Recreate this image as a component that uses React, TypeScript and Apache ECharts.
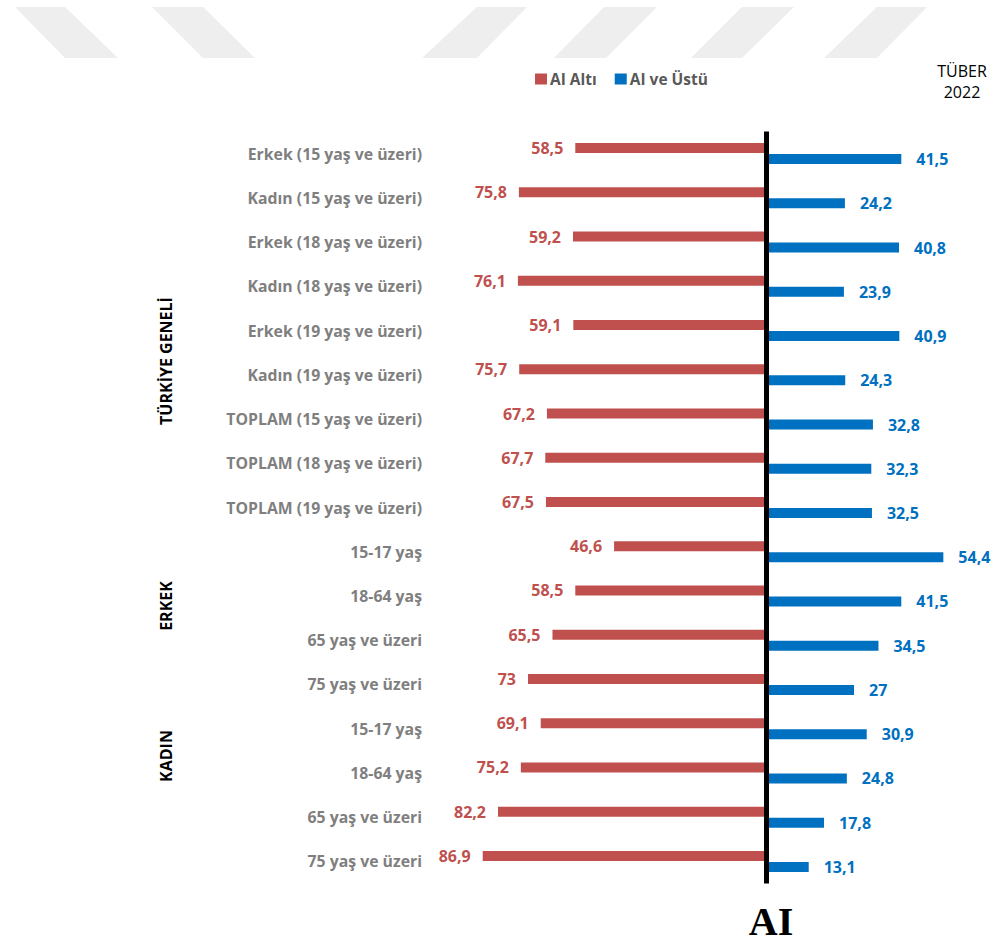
import React, { useEffect, useRef } from "react";
import * as echarts from "echarts";

const categories = [
  "Erkek (15 yaş ve üzeri)",
  "Kadın (15 yaş ve üzeri)",
  "Erkek (18 yaş ve üzeri)",
  "Kadın (18 yaş ve üzeri)",
  "Erkek (19 yaş ve üzeri)",
  "Kadın (19 yaş ve üzeri)",
  "TOPLAM (15 yaş ve üzeri)",
  "TOPLAM (18 yaş ve üzeri)",
  "TOPLAM (19 yaş ve üzeri)",
  "15-17 yaş",
  "18-64 yaş",
  "65 yaş ve üzeri",
  "75 yaş ve üzeri",
  "15-17 yaş",
  "18-64 yaş",
  "65 yaş ve üzeri",
  "75 yaş ve üzeri",
];

const aiAlti = [58.5, 75.8, 59.2, 76.1, 59.1, 75.7, 67.2, 67.7, 67.5, 46.6, 58.5, 65.5, 73, 69.1, 75.2, 82.2, 86.9];
const aiVeUstu = [41.5, 24.2, 40.8, 23.9, 40.9, 24.3, 32.8, 32.3, 32.5, 54.4, 41.5, 34.5, 27, 30.9, 24.8, 17.8, 13.1];

const seriesNames = ["AI Altı", "AI ve Üstü"];
const groupLabels = ["TÜRKİYE GENELİ", "ERKEK", "KADIN"];

const FONT = "'Open Sans', Lato, sans-serif";
const RED = "#C0504D";
const BLUE = "#0070C0";

const fmt = (v: number) => String(Math.abs(v)).replace(".", ",");

const stripes: number[][][] = [
  [[15, 7], [65, 7], [118, 58], [65, 58]],
  [[152, 7], [203, 7], [255, 58], [203, 58]],
  [[477, 7], [527, 7], [477, 58], [422, 58]],
  [[604, 7], [657, 7], [606, 58], [554, 58]],
  [[742, 7], [794, 7], [742, 58], [691, 58]],
  [[877, 7], [927, 7], [877, 58], [824, 58]],
];

export default function App() {
  const ref = useRef<HTMLDivElement>(null);
  useEffect(() => {
    if (!ref.current) return;
    const chart = echarts.init(ref.current, null, { renderer: "svg" });
    chart.setOption({
      animation: false,
      backgroundColor: "#ffffff",
      legend: {
        left: 530,
        top: 66,
        icon: "rect",
        itemWidth: 12,
        itemHeight: 11,
        itemGap: 18,
        data: seriesNames,
        textStyle: { color: "#595959", fontWeight: "bold", fontSize: 15.5, fontFamily: FONT, padding: [0, 0, 0, -2] },
      },
      grid: { left: 440, top: 131.5, width: 521.6, height: 752, containLabel: false },
      xAxis: {
        type: "value",
        min: -100,
        max: 60,
        show: false,
      },
      yAxis: {
        type: "category",
        inverse: true,
        data: categories,
        axisLine: { show: false },
        axisTick: { show: false },
        splitLine: { show: false },
        axisLabel: {
          margin: 18,
          color: "#7F7F7F",
          fontWeight: "bold",
          fontSize: 15.8,
          fontFamily: FONT,
        },
      },
      series: [
        {
          name: seriesNames[0],
          type: "bar",
          data: aiAlti.map((v) => -v),
          barWidth: 10,
          barGap: "10%",
          itemStyle: { color: RED },
          label: {
            show: true,
            position: "left",
            distance: 12,
            color: RED,
            fontWeight: "bold",
            fontSize: 16,
            fontFamily: FONT,
            formatter: (p: any) => fmt(p.value),
          },
          markLine: {
            silent: true,
            symbol: "none",
            label: { show: false },
            lineStyle: { color: "#000000", width: 5, type: "solid" },
            data: [{ xAxis: 0 }],
          },
        },
        {
          name: seriesNames[1],
          type: "bar",
          data: aiVeUstu,
          barWidth: 10,
          itemStyle: { color: BLUE },
          label: {
            show: true,
            position: "right",
            distance: 15,
            color: BLUE,
            fontWeight: "bold",
            fontSize: 16,
            fontFamily: FONT,
            formatter: (p: any) => fmt(p.value),
          },
        },
      ],
      graphic: [
        ...stripes.map((pts) => ({
          type: "polygon",
          silent: true,
          z: -10,
          shape: { points: pts },
          style: { fill: "#EEEEEE" },
        })),
        {
          type: "text",
          x: 962,
          y: 81,
          style: {
            text: "TÜBER\n2022",
            fill: "#000000",
            font: "16px 'Liberation Sans Narrow', 'Open Sans', sans-serif",
            align: "center",
            verticalAlign: "middle",
            lineHeight: 21,
          },
        },
        {
          type: "text",
          x: 771,
          y: 941,
          style: {
            text: "AI",
            fill: "#000000",
            font: "bold 40px 'Liberation Serif', serif",
            align: "center",
            verticalAlign: "bottom",
          },
        },
        {
          type: "text",
          x: 166,
          y: 361,
          rotation: Math.PI / 2,
          style: { text: groupLabels[0], fill: "#000000", font: `bold 16px ${FONT}`, align: "center", verticalAlign: "middle" },
        },
        {
          type: "text",
          x: 166,
          y: 606,
          rotation: Math.PI / 2,
          style: { text: groupLabels[1], fill: "#000000", font: `bold 16px ${FONT}`, align: "center", verticalAlign: "middle" },
        },
        {
          type: "text",
          x: 166,
          y: 756,
          rotation: Math.PI / 2,
          style: { text: groupLabels[2], fill: "#000000", font: `bold 16px ${FONT}`, align: "center", verticalAlign: "middle" },
        },
      ],
    });
    return () => chart.dispose();
  }, []);
  return <div ref={ref} style={{ position: "absolute", left: 0, top: 0, width: 994, height: 942 }} />;
}
